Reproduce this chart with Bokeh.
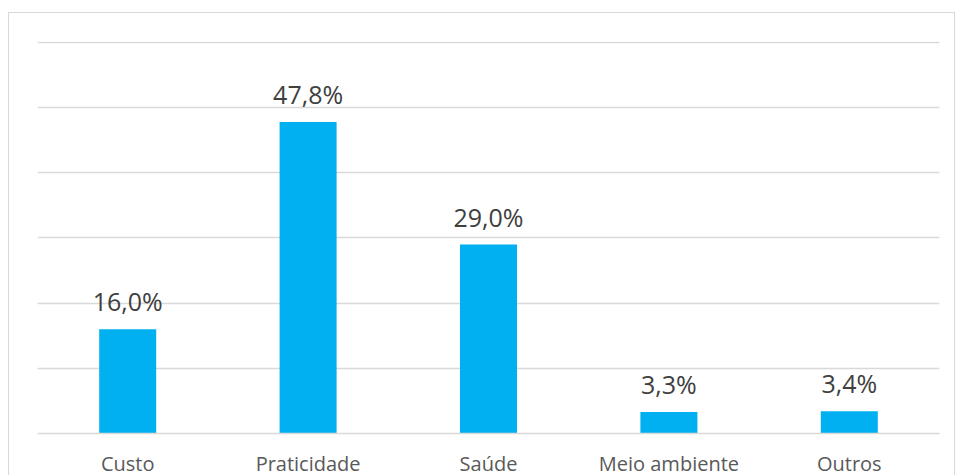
from bokeh.plotting import figure
from bokeh.models import ColumnDataSource, Range1d, FactorRange
from bokeh.core.properties import value
from bokeh.embed import file_html
from bokeh.resources import INLINE

categories = ["Custo", "Praticidade", "Saúde", "Meio ambiente", "Outros"]
values = [16.0, 47.8, 29.0, 3.3, 3.4]
labels = ["16,0%", "47,8%", "29,0%", "3,3%", "3,4%"]

src = ColumnDataSource(dict(cat=categories, val=values, lab=labels))

p = figure(x_range=FactorRange(*categories), y_range=Range1d(0, 60.15),
           frame_width=902, frame_height=392, output_backend="svg", toolbar_location=None,
           min_border_left=28, min_border_right=15, min_border_top=28, min_border_bottom=10,
           styles={"border": "1px solid #d9d9d9", "margin-top": "12px", "margin-left": "8px"})
p.x_range.range_padding = 0
p.outline_line_color = None
p.vbar(x="cat", top="val", width=0.316, source=src, fill_color="#00B0F0", line_color=None)
p.text(x="cat", y="val", text="lab", source=src, text_align="center", text_baseline="alphabetic",
       y_offset=-28, text_font=value("Open Sans"), text_font_size="25px", text_color="#404040")

p.yaxis.visible = False
p.ygrid.grid_line_color = "#d9d9d9"
p.ygrid.grid_line_width = 1.5
p.ygrid.ticker = [10, 20, 30, 40, 50, 60]
p.xgrid.grid_line_color = None
p.xaxis.axis_line_color = "#d9d9d9"
p.xaxis.axis_line_width = 1.5
p.xaxis.major_tick_line_color = None
p.xaxis.minor_tick_line_color = None
p.xaxis.major_label_standoff = 10
p.xaxis.major_label_text_font = "Open Sans"
p.xaxis.major_label_text_font_size = "20px"
p.xaxis.major_label_text_color = "#595959"

open("out.html", "w").write(file_html(p, INLINE))
